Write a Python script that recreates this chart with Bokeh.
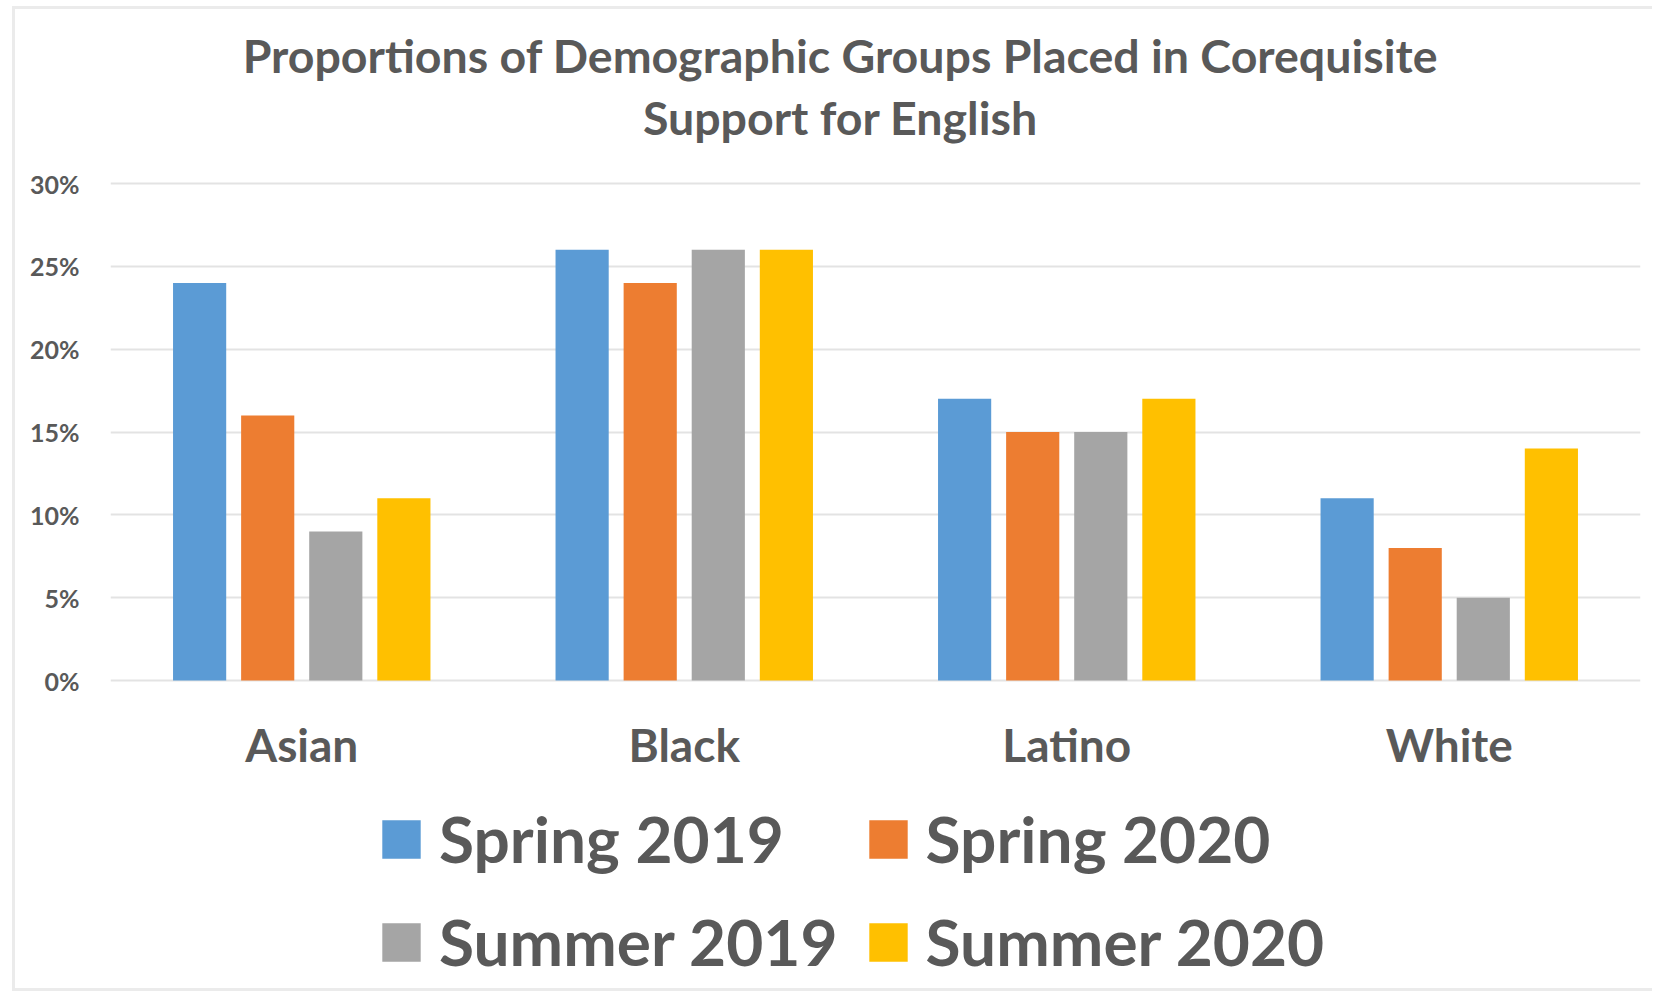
from bokeh.plotting import figure
from bokeh.models import (FactorRange, Range1d, FixedTicker, NumeralTickFormatter,
                          ColumnDataSource, Legend, LegendItem, Label)
from bokeh.transform import dodge
from bokeh.embed import file_html
from bokeh.resources import INLINE

categories = ["Asian", "Black", "Latino", "White"]
series_names = ["Spring 2019", "Spring 2020", "Summer 2019", "Summer 2020"]
spring_2019 = [0.24, 0.26, 0.17, 0.11]
spring_2020 = [0.16, 0.24, 0.15, 0.08]
summer_2019 = [0.09, 0.26, 0.15, 0.05]
summer_2020 = [0.11, 0.26, 0.17, 0.14]
y_ticks = [0, 0.05, 0.10, 0.15, 0.20, 0.25, 0.30]
title_lines = ["Proportions of Demographic Groups Placed in Corequisite",
               "Support for English"]

colors = ["#5B9BD5", "#ED7D31", "#A5A5A5", "#FFC000"]
TEXT = "#595959"
FONT = "Lato"

# canvas geometry (pixels)
W, H = 1640, 985
LEFT, RIGHT = 95, 15
TOP_GRID, ZERO = 174, 671          # canvas y of the 30% and 0% gridlines
ymax_tick = y_ticks[-1]
ppu = (ZERO - TOP_GRID) / ymax_tick   # pixels per unit
y_end = ymax_tick + TOP_GRID / ppu
y_start = -(H - ZERO) / ppu
frame_w = W - LEFT - RIGHT
xppu = frame_w / len(categories)

def ydata(canvas_y):
    return y_end - canvas_y / ppu

src = ColumnDataSource(dict(cat=categories, s19=spring_2019, s20=spring_2020,
                            u19=summer_2019, u20=summer_2020))

p = figure(width=W, height=H, output_backend="svg", toolbar_location=None,
           x_range=FactorRange(*categories, range_padding=0),
           y_range=Range1d(y_start, y_end), title=None,
           min_border_left=LEFT, min_border_right=RIGHT, min_border_top=0,
           min_border_bottom=0)
p.styles = {"border-left": "3px solid #EBEBEB", "border-top": "3px solid #EBEBEB",
            "border-bottom": "3px solid #EBEBEB", "margin-left": "12px",
            "margin-top": "6px"}

title_x = (825 - LEFT) / xppu
for txt, cy in zip(title_lines, [45, 107]):
    p.add_layout(Label(x=title_x, y=ydata(cy), text=txt, text_align="center",
                       text_baseline="middle", text_font=FONT, text_font_style="bold",
                       text_font_size="46.5px", text_color=TEXT))

pitch = 0.178
bw = 0.139
renderers = []
for i, (col, name) in enumerate(zip(["s19", "s20", "u19", "u20"], series_names)):
    r = p.vbar(x=dodge("cat", (i - 1.5) * pitch, range=p.x_range), top=col, width=bw,
               source=src, fill_color=colors[i], line_color=None)
    renderers.append((name, r))

# category labels under the 0% line
p.text(x="cat", y=0, text="cat", source=src, text_align="center",
       text_baseline="middle", y_offset=64, text_font={"value": FONT},
       text_font_style="bold", text_font_size="46px", text_color=TEXT)

legend = Legend(items=[LegendItem(label=n, renderers=[r]) for n, r in renderers],
                ncols=2, location=(267, 14), orientation="horizontal")
legend.label_text_font = FONT
legend.label_text_font_style = "bold"
legend.label_text_font_size = "64px"
legend.label_text_color = TEXT
legend.glyph_width = 48
legend.glyph_height = 48
legend.label_standoff = 14
legend.spacing = 26
legend.padding = 0
legend.margin = 0
legend.border_line_color = None
legend.background_fill_alpha = 0
p.add_layout(legend, "center")

p.yaxis.ticker = FixedTicker(ticks=y_ticks)
p.yaxis.formatter = NumeralTickFormatter(format="0%")
p.yaxis.major_label_text_font = FONT
p.yaxis.major_label_text_font_style = "bold"
p.yaxis.major_label_text_font_size = "25px"
p.yaxis.major_label_text_color = TEXT
p.yaxis.axis_line_color = None
p.yaxis.major_tick_line_color = None
p.yaxis.minor_tick_line_color = None
p.yaxis.major_label_standoff = 25
p.xaxis.visible = False

p.xgrid.grid_line_color = None
p.ygrid.ticker = FixedTicker(ticks=y_ticks)
p.ygrid.grid_line_color = "#E3E3E3"
p.ygrid.grid_line_width = 2
p.outline_line_color = None
p.background_fill_color = "white"
p.border_fill_color = "white"

open("out.html", "w").write(file_html(p, INLINE))
